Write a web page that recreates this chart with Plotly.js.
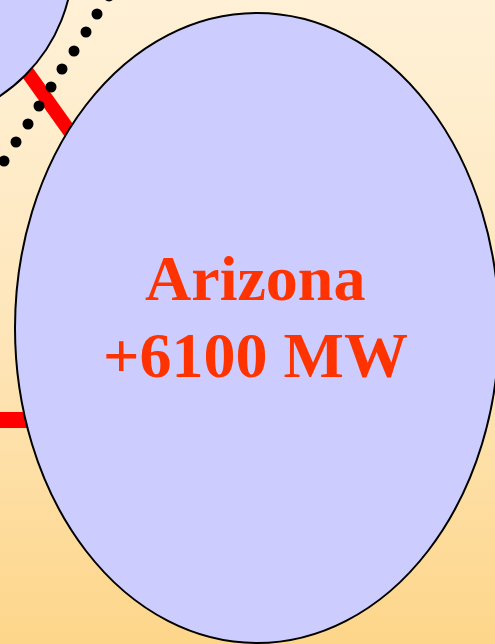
<!DOCTYPE html>
<html>
<head>
<meta charset="utf-8">
<script src="https://cdn.plot.ly/plotly-3.0.1.min.js"></script>
<style>
html,body{margin:0;padding:0;}
body{width:495px;height:644px;background:linear-gradient(to bottom,#FFF1D7 0%,#FEE6BB 50%,#FDD68A 100%);}
#chart{width:495px;height:644px;}
</style>
</head>
<body>
<div id="chart"></div>
<script>
// Regions (ellipses): centre x, centre y, radius x, radius y (picture units)
var regionNames = ["Neighbour", "Arizona"];
var regionCx = [-90, 257];
var regionCy = [-40, 328];
var regionRx = [163, 242];
var regionRy = [163, 315];

// Label of the main region
var labelLines = ["Arizona", "+6100 MW"];

// Red transmission links: start/end points
var linkX0 = [8, -10];
var linkY0 = [45, 420];
var linkX1 = [85, 60];
var linkY1 = [153, 420];

// Dotted path (dot centres)
var dotX = [109, 97, 86, 74, 62, 51, 39, 28, 16, 4, -8];
var dotY = [-4, 14, 32, 51, 69, 87, 106, 124, 142, 161, 179];

var shapes = [];
for (var i = 0; i < linkX0.length; i++) {
  shapes.push({type:'line', xref:'x', yref:'y', layer:'below',
    x0:linkX0[i], y0:linkY0[i], x1:linkX1[i], y1:linkY1[i],
    line:{color:'#FF0000', width:i===0?14:16}});
}
for (var j = 0; j < regionNames.length; j++) {
  shapes.push({type:'circle', xref:'x', yref:'y', layer:'below',
    x0:regionCx[j]-regionRx[j], x1:regionCx[j]+regionRx[j],
    y0:regionCy[j]-regionRy[j], y1:regionCy[j]+regionRy[j],
    fillcolor:'#CCCCFF', line:{color:'#000000', width:2}});
}

var traces = [{
  type:'scatter', mode:'markers', x:dotX, y:dotY,
  marker:{color:'#000000', size:11}, hoverinfo:'skip', showlegend:false
}];

var annotations = [
  {xref:'x', yref:'y', x:255, y:278, text:'<b>'+labelLines[0]+'</b>', showarrow:false,
   font:{family:'Liberation Serif, Times New Roman, serif', size:64, color:'#FF3300'}, xanchor:'center', yanchor:'middle'},
  {xref:'x', yref:'y', x:255, y:355, text:'<b>'+labelLines[1]+'</b>', showarrow:false,
   font:{family:'Liberation Serif, Times New Roman, serif', size:64, color:'#FF3300'}, xanchor:'center', yanchor:'middle'}
];

var layout = {
  width:495, height:644,
  margin:{l:0, r:0, t:0, b:0, pad:0},
  paper_bgcolor:'rgba(0,0,0,0)', plot_bgcolor:'rgba(0,0,0,0)',
  xaxis:{range:[0,495], visible:false, fixedrange:true},
  yaxis:{range:[644,0], visible:false, fixedrange:true},
  shapes:shapes, annotations:annotations, showlegend:false
};

Plotly.newPlot('chart', traces, layout, {displayModeBar:false, staticPlot:true});
</script>
</body>
</html>
